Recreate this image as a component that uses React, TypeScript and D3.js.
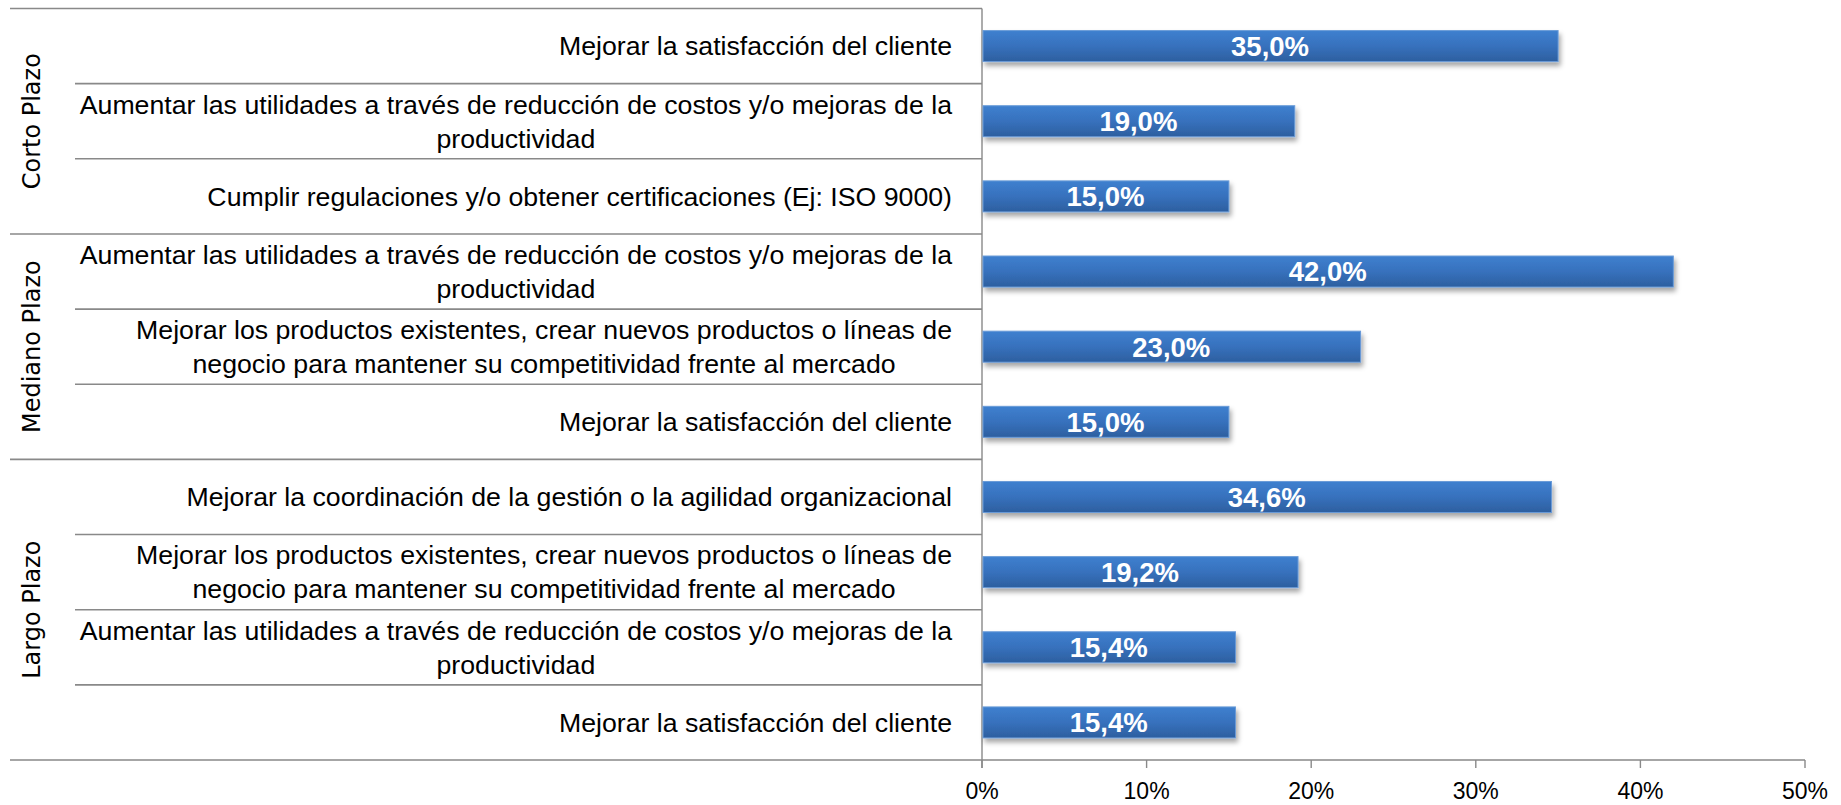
import React, { useEffect, useRef } from "react";
import * as d3 from "d3";

const groups = ["Corto Plazo", "Mediano Plazo", "Largo Plazo"];
const groupSizes = [3, 3, 4];

const categoryLabels: string[][] = [
  ["Mejorar la satisfacción del cliente"],
  ["Aumentar las utilidades a través de reducción de costos y/o mejoras de la", "productividad"],
  ["Cumplir regulaciones y/o obtener certificaciones (Ej: ISO 9000)"],
  ["Aumentar las utilidades a través de reducción de costos y/o mejoras de la", "productividad"],
  ["Mejorar los productos existentes, crear nuevos productos o líneas de", "negocio para mantener su competitividad frente al mercado"],
  ["Mejorar la satisfacción del cliente"],
  ["Mejorar la coordinación de la gestión o la agilidad organizacional"],
  ["Mejorar los productos existentes, crear nuevos productos o líneas de", "negocio para mantener su competitividad frente al mercado"],
  ["Aumentar las utilidades a través de reducción de costos y/o mejoras de la", "productividad"],
  ["Mejorar la satisfacción del cliente"],
];

const values = [35.0, 19.0, 15.0, 42.0, 23.0, 15.0, 34.6, 19.2, 15.4, 15.4];

const tickValues = [0, 10, 20, 30, 40, 50];

export default function App() {
  const ref = useRef<SVGSVGElement>(null);

  useEffect(() => {
    const svg = d3.select(ref.current);
    svg.selectAll("*").remove();

    const top = 8.5;
    const bottom = 760;
    const leftOuter = 10;
    const leftInner = 75;
    const axisX = 982;
    const xEnd = 1805;
    const labelRight = 952;
    const lineColor = "#898989";
    const labelFont = "'Liberation Sans', Arial, sans-serif";

    const x = d3.scaleLinear().domain([0, 50]).range([axisX, xEnd]);
    const pad = 0.5875;
    const y = d3
      .scaleBand<number>()
      .domain(d3.range(values.length))
      .range([top, bottom])
      .paddingInner(pad)
      .paddingOuter(pad / 2);
    const step = y.step();
    const bw = y.bandwidth();
    const rowTop = (i: number) => top + i * step;

    const defs = svg.append("defs");
    const grad = defs
      .append("linearGradient")
      .attr("id", "barGrad")
      .attr("x1", 0)
      .attr("y1", 0)
      .attr("x2", 0)
      .attr("y2", 1);
    grad.append("stop").attr("offset", "0%").attr("stop-color", "#3E80CF");
    grad.append("stop").attr("offset", "50%").attr("stop-color", "#3771BD");
    grad.append("stop").attr("offset", "100%").attr("stop-color", "#2D5F9F");

    const filt = defs
      .append("filter")
      .attr("id", "shadow")
      .attr("x", "-10%")
      .attr("y", "-30%")
      .attr("width", "130%")
      .attr("height", "180%");
    filt
      .append("feDropShadow")
      .attr("dx", 2)
      .attr("dy", 4)
      .attr("stdDeviation", 2.5)
      .attr("flood-color", "#000")
      .attr("flood-opacity", 0.35);

    const groupStarts: number[] = [];
    let acc = 0;
    groupSizes.forEach((s) => {
      groupStarts.push(acc);
      acc += s;
    });

    const lines = svg.append("g").attr("stroke", lineColor).attr("stroke-width", 1.6).attr("fill", "none");
    lines.append("line").attr("x1", leftOuter).attr("x2", axisX).attr("y1", top).attr("y2", top);
    for (let i = 1; i < values.length; i++) {
      const isGroup = groupStarts.includes(i);
      const yy = rowTop(i);
      lines
        .append("line")
        .attr("x1", isGroup ? leftOuter : leftInner)
        .attr("x2", axisX)
        .attr("y1", yy)
        .attr("y2", yy);
    }
    lines.append("line").attr("x1", leftOuter).attr("x2", xEnd).attr("y1", bottom).attr("y2", bottom);
    lines.append("line").attr("x1", axisX).attr("x2", axisX).attr("y1", top).attr("y2", bottom + 8).attr("stroke-width", 1.4);
    tickValues.forEach((t) => {
      lines
        .append("line")
        .attr("x1", x(t))
        .attr("x2", x(t))
        .attr("y1", bottom)
        .attr("y2", bottom + 8)
        .attr("stroke-width", 1.4);
    });

    svg
      .append("g")
      .selectAll("rect")
      .data(values)
      .join("rect")
      .attr("x", x(0) + 1)
      .attr("y", (_, i) => y(i)!)
      .attr("width", (d) => x(d) - x(0) - 1)
      .attr("height", bw)
      .attr("fill", "url(#barGrad)")
      .attr("stroke", "#6A9BD8")
      .attr("stroke-width", 1)
      .attr("filter", "url(#shadow)");

    svg
      .append("g")
      .selectAll("text")
      .data(values)
      .join("text")
      .attr("x", (d) => (x(0) + x(d)) / 2)
      .attr("y", (_, i) => y(i)! + bw / 2)
      .attr("dy", "0.36em")
      .attr("text-anchor", "middle")
      .attr("fill", "#fff")
      .attr("font-family", labelFont)
      .attr("font-weight", "bold")
      .attr("font-size", 27.5)
      .text((d) => d3.format(".1f")(d).replace(".", ",") + "%");

    const lineH = 34;
    const catG = svg
      .append("g")
      .attr("font-family", labelFont)
      .attr("font-size", 26.7)
      .attr("fill", "#000");
    categoryLabels.forEach((lns, i) => {
      const cy = rowTop(i) + step / 2;
      const widths = lns.map((l) => {
        const t = catG.append("text").text(l);
        const w = (t.node() as SVGTextElement).getComputedTextLength();
        t.remove();
        return w;
      });
      const maxW = Math.max(...widths);
      const cx = labelRight - maxW / 2;
      lns.forEach((l, j) => {
        catG
          .append("text")
          .attr("x", cx)
          .attr("y", cy + (j - (lns.length - 1) / 2) * lineH)
          .attr("dy", "0.35em")
          .attr("text-anchor", "middle")
          .text(l);
      });
    });

    groups.forEach((g, gi) => {
      const s = groupStarts[gi];
      const e = s + groupSizes[gi];
      const cy = (rowTop(s) + rowTop(e)) / 2;
      svg
        .append("text")
        .attr("transform", `translate(40,${cy}) rotate(-90)`)
        .attr("text-anchor", "middle")
        .attr("font-family", "'DejaVu Sans', Verdana, sans-serif")
        .attr("font-size", 24)
        .attr("fill", "#000")
        .text(g);
    });

    svg
      .append("g")
      .selectAll("text")
      .data(tickValues)
      .join("text")
      .attr("x", (d) => x(d))
      .attr("y", 799)
      .attr("text-anchor", "middle")
      .attr("font-family", labelFont)
      .attr("font-size", 23)
      .attr("fill", "#000")
      .text((d) => d + "%");
  }, []);

  return (
    <div style={{ position: "absolute", left: 0, top: 0 }}>
      <svg ref={ref} width={1841} height={805} style={{ display: "block", background: "#fff" }} />
    </div>
  );
}
